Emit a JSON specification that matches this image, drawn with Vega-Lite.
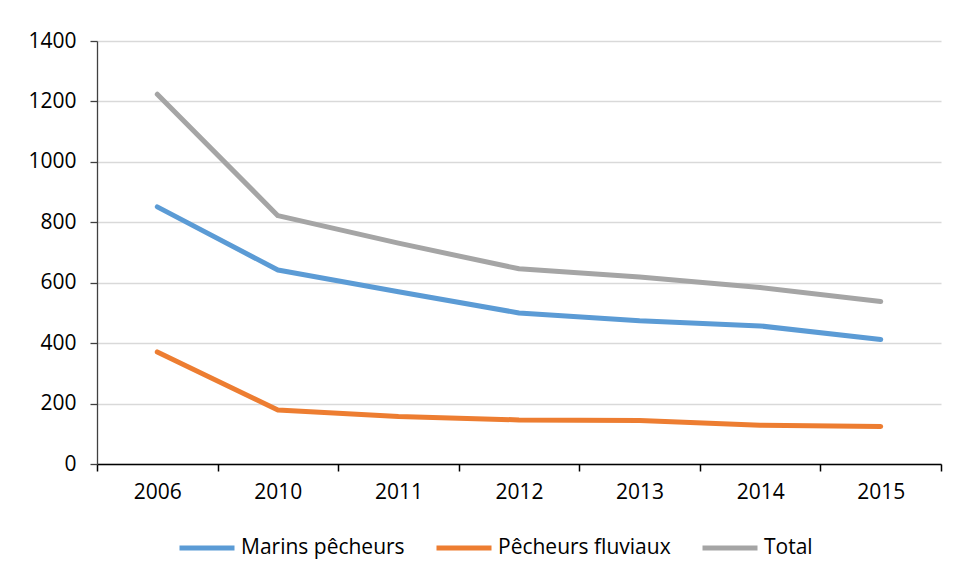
{
  "$schema": "https://vega.github.io/schema/vega-lite/v6.json",
  "width": 844,
  "height": 423,
  "autosize": {"type": "none"},
  "padding": {"left": 97, "top": 41, "right": 15, "bottom": 114},
  "background": "white",
  "config": {
    "view": {"stroke": null},
    "font": "Open Sans"
  },
  "data": {
    "values": [
      {"annee": "2006", "serie": "Marins pêcheurs", "valeur": 851},
      {"annee": "2010", "serie": "Marins pêcheurs", "valeur": 642},
      {"annee": "2011", "serie": "Marins pêcheurs", "valeur": 570},
      {"annee": "2012", "serie": "Marins pêcheurs", "valeur": 500},
      {"annee": "2013", "serie": "Marins pêcheurs", "valeur": 474},
      {"annee": "2014", "serie": "Marins pêcheurs", "valeur": 457},
      {"annee": "2015", "serie": "Marins pêcheurs", "valeur": 412},
      {"annee": "2006", "serie": "Pêcheurs fluviaux", "valeur": 371},
      {"annee": "2010", "serie": "Pêcheurs fluviaux", "valeur": 179},
      {"annee": "2011", "serie": "Pêcheurs fluviaux", "valeur": 157},
      {"annee": "2012", "serie": "Pêcheurs fluviaux", "valeur": 146},
      {"annee": "2013", "serie": "Pêcheurs fluviaux", "valeur": 144},
      {"annee": "2014", "serie": "Pêcheurs fluviaux", "valeur": 128},
      {"annee": "2015", "serie": "Pêcheurs fluviaux", "valeur": 124},
      {"annee": "2006", "serie": "Total", "valeur": 1224},
      {"annee": "2010", "serie": "Total", "valeur": 822},
      {"annee": "2011", "serie": "Total", "valeur": 731},
      {"annee": "2012", "serie": "Total", "valeur": 646},
      {"annee": "2013", "serie": "Total", "valeur": 619},
      {"annee": "2014", "serie": "Total", "valeur": 584},
      {"annee": "2015", "serie": "Total", "valeur": 538}
    ]
  },
  "mark": {"type": "line", "strokeWidth": 5, "strokeCap": "round", "strokeJoin": "round"},
  "encoding": {
    "x": {
      "field": "annee",
      "type": "ordinal",
      "bandPosition": 0.5,
      "scale": {"type": "band", "paddingInner": 0, "paddingOuter": 0},
      "axis": {
        "title": null,
        "labelAngle": 0,
        "labelFont": "Open Sans",
        "labelFontSize": 21,
        "labelColor": "#000000",
        "tickBand": "extent",
        "domainColor": "#000000",
        "domainWidth": 1.5,
        "tickColor": "#000000",
        "tickWidth": 1.5,
        "tickSize": 7,
        "labelPadding": 10,
        "grid": false
      }
    },
    "y": {
      "field": "valeur",
      "type": "quantitative",
      "scale": {"domain": [0, 1400], "nice": false},
      "axis": {
        "title": null,
        "format": "d",
        "values": [0, 200, 400, 600, 800, 1000, 1200, 1400],
        "labelFont": "Open Sans",
        "labelFontSize": 21,
        "labelColor": "#000000",
        "grid": true,
        "gridColor": "#d9d9d9",
        "gridWidth": 1.3,
        "domainColor": "#404040",
        "domainWidth": 1.3,
        "tickColor": "#404040",
        "tickWidth": 1.3,
        "tickSize": 7,
        "labelPadding": 14
      }
    },
    "color": {
      "field": "serie",
      "type": "nominal",
      "scale": {
        "domain": ["Marins pêcheurs", "Pêcheurs fluviaux", "Total"],
        "range": ["#5B9BD5", "#ED7D31", "#A5A5A5"]
      },
      "legend": {
        "title": null,
        "orient": "none",
        "direction": "horizontal",
        "legendX": 80,
        "legendY": 477,
        "labelFont": "Open Sans",
        "labelFontSize": 21,
        "labelColor": "#000000",
        "labelLimit": 400,
        "symbolType": "stroke",
        "symbolSize": 3025,
        "symbolStrokeWidth": 5,
        "labelOffset": 4,
        "columnPadding": 21
      }
    }
  }
}
